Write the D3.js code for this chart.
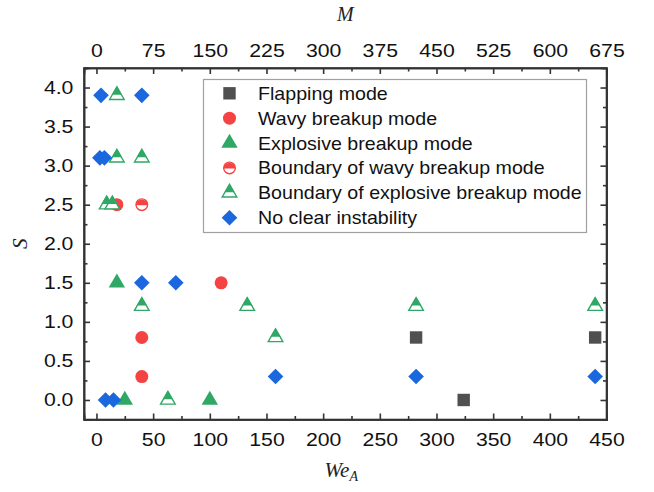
<!DOCTYPE html>
<html>
<head>
<meta charset="utf-8">
<script src="https://cdn.jsdelivr.net/npm/d3@7/dist/d3.min.js"></script>
<style>
  html, body { margin: 0; padding: 0; background: #fff; }
  svg { display: block; }
  .tick-label { font-family: "Liberation Sans", Arial, sans-serif; font-size: 18px; fill: #111; }
  .title { font-family: "Liberation Serif", "Times New Roman", serif; font-style: italic; fill: #222; }
</style>
</head>
<body>
<svg id="chart" width="654" height="492"></svg>
<script>
// ---- data: Weber number We_A and S for each regime ----
const flappingWe = [282, 440, 324];
const flappingS  = [0.8, 0.8, 0.0];

const wavyWe = [18, 110, 40, 40];
const wavyS  = [2.5, 1.5, 0.8, 0.3];

const explosiveWe = [18, 25, 100];
const explosiveS  = [1.5, 0.0, 0.0];

const boundaryWavyWe = [40];
const boundaryWavyS  = [2.5];

const boundaryExplosiveWe = [18, 18, 40, 9, 14, 40, 133, 158, 282, 440, 63];
const boundaryExplosiveS  = [3.9, 3.1, 3.1, 2.5, 2.5, 1.2, 1.2, 0.8, 1.2, 1.2, 0.0];

const noClearWe = [4, 40, 3, 7, 40, 70, 158, 282, 440, 8, 15];
const noClearS  = [3.9, 3.9, 3.1, 3.1, 1.5, 1.5, 0.3, 0.3, 0.3, 0.0, 0.0];

const seriesNames = [
  "Flapping mode",
  "Wavy breakup mode",
  "Explosive breakup mode",
  "Boundary of wavy breakup mode",
  "Boundary of explosive breakup mode",
  "No clear instability"
];

// tick values
const weTicks = [0, 50, 100, 150, 200, 250, 300, 350, 400, 450];
const mTicks  = [0, 75, 150, 225, 300, 375, 450, 525, 600, 675];
const sTicks  = [0, 0.5, 1.0, 1.5, 2.0, 2.5, 3.0, 3.5, 4.0];

// ---- layout ----
const plotL = 84, plotR = 606.5, plotT = 68, plotB = 419.5;
const svg = d3.select("#chart");

const x = d3.scaleLinear().domain([-11, 450]).range([plotL, plotR]);
const xTop = d3.scaleLinear().domain([-16.5, 675]).range([plotL, plotR]); // M = 1.5 We_A
const y = d3.scaleLinear().domain([-0.25, 4.25]).range([plotB, plotT]);

const axisColor = "#333";
const COLORS = { gray: "#505050", red: "#f54343", green: "#2fa866", blue: "#1a67de" };

// minor ticks halfway between the majors
const minorOf = (ticks) => ticks.slice(0, -1).map((t, i) => (t + ticks[i + 1]) / 2);

function styleAxis(g) {
  g.selectAll("path.domain").attr("stroke", axisColor).attr("stroke-width", 1.6);
  g.selectAll(".tick line").attr("stroke", axisColor).attr("stroke-width", 1.6);
}
function styleLabels(g, sx) {
  g.selectAll("text").attr("class", "tick-label").attr("font-size", null)
    .attr("font-family", null).attr("fill", null).attr("transform", `scale(${sx},1)`);
}

// frame
svg.append("rect")
  .attr("x", plotL).attr("y", plotT)
  .attr("width", plotR - plotL).attr("height", plotB - plotT)
  .attr("fill", "none").attr("stroke", axisColor).attr("stroke-width", 1.6);

const sx = 1.18; // horizontal stretch of tick labels

// bottom axis
const gB = svg.append("g").attr("transform", `translate(0,${plotB})`)
  .call(d3.axisBottom(x).tickValues(weTicks).tickSize(-6).tickPadding(14).tickFormat(d3.format("d")));
styleLabels(gB, sx);
svg.append("g").attr("transform", `translate(0,${plotB})`)
  .call(d3.axisBottom(x).tickValues(minorOf(weTicks)).tickSize(-3.5).tickFormat(""))
  .call(styleAxis);
styleAxis(gB);

// top axis (M)
const gT = svg.append("g").attr("transform", `translate(0,${plotT})`)
  .call(d3.axisTop(xTop).tickValues(mTicks).tickSize(-6).tickPadding(11).tickFormat(d3.format("d")));
styleLabels(gT, sx);
svg.append("g").attr("transform", `translate(0,${plotT})`)
  .call(d3.axisTop(xTop).tickValues(minorOf(mTicks)).tickSize(-3.5).tickFormat(""))
  .call(styleAxis);
styleAxis(gT);

// left axis
const gL = svg.append("g").attr("transform", `translate(${plotL},0)`)
  .call(d3.axisLeft(y).tickValues(sTicks).tickSize(-6).tickPadding(9).tickFormat(d3.format(".1f")));
styleLabels(gL, sx);
svg.append("g").attr("transform", `translate(${plotL},0)`)
  .call(d3.axisLeft(y).tickValues(minorOf(sTicks).concat([4.25])).tickSize(-3.5).tickFormat(""))
  .call(styleAxis);
styleAxis(gL);

// right axis (ticks only)
const gR = svg.append("g").attr("transform", `translate(${plotR},0)`)
  .call(d3.axisRight(y).tickValues(sTicks).tickSize(-6).tickFormat(""));
svg.append("g").attr("transform", `translate(${plotR},0)`)
  .call(d3.axisRight(y).tickValues(minorOf(sTicks)).tickSize(-3.5).tickFormat(""))
  .call(styleAxis);
styleAxis(gR);

// axis titles
svg.append("text").attr("class", "title")
  .attr("x", (plotL + plotR) / 2).attr("y", 21)
  .attr("text-anchor", "middle").attr("font-size", 20).text("M");

const xt = svg.append("text").attr("class", "title")
  .attr("x", (plotL + plotR) / 2 - 4).attr("y", 477)
  .attr("text-anchor", "middle").attr("font-size", 21);
xt.append("tspan").text("We");
xt.append("tspan").attr("font-size", 14).attr("dy", 4).text("A");

svg.append("text").attr("class", "title")
  .attr("transform", `translate(27,${(plotT + plotB) / 2}) rotate(-90)`)
  .attr("text-anchor", "middle").attr("font-size", 21).text("S");

// ---- marker painters ----
const R = 6.5;           // circle radius
const D = 7.8;           // diamond half-diagonal
const SQ = 12.4;         // square side
const TW = 8.2, TH = 14; // triangle half-width, height

function drawSquare(g) {
  g.append("rect").attr("x", -SQ / 2).attr("y", -SQ / 2).attr("width", SQ).attr("height", SQ)
    .attr("fill", COLORS.gray);
}
function drawCircle(g) {
  g.append("circle").attr("r", R).attr("fill", COLORS.red);
}
function drawTriangle(g) {
  const c = TH / 3;
  g.append("path").attr("d", `M0,${-2 * c} L${TW},${c} L${-TW},${c} Z`).attr("fill", COLORS.green);
}
function drawHalfCircle(g) {
  const r = R - 0.7;
  g.append("circle").attr("r", r).attr("fill", "#fff")
    .attr("stroke", COLORS.red).attr("stroke-width", 1.4);
  g.append("path").attr("d", `M${-r},0.5 A${r},${r} 0 0 1 ${r},0.5 Z`).attr("fill", COLORS.red);
}
function drawHalfTriangle(g) {
  const c = TH / 3;
  g.append("path").attr("d", `M0,${-2 * c + 0.8} L${TW - 0.9},${c - 0.5} L${-TW + 0.9},${c - 0.5} Z`)
    .attr("fill", "#fff").attr("stroke", COLORS.green).attr("stroke-width", 1.4);
  // upper part filled
  const frac = 0.62;
  const yb = -2 * c + TH * frac;
  const hw = TW * frac;
  g.append("path").attr("d", `M0,${-2 * c} L${hw},${yb} L${-hw},${yb} Z`).attr("fill", COLORS.green);
}
function drawDiamond(g) {
  g.append("path").attr("d", `M0,${-D} L${D},0 L0,${D} L${-D},0 Z`).attr("fill", COLORS.blue);
}

const series = [
  { we: flappingWe, s: flappingS, draw: drawSquare },
  { we: wavyWe, s: wavyS, draw: drawCircle },
  { we: explosiveWe, s: explosiveS, draw: drawTriangle },
  { we: boundaryWavyWe, s: boundaryWavyS, draw: drawHalfCircle },
  { we: boundaryExplosiveWe, s: boundaryExplosiveS, draw: drawHalfTriangle },
  { we: noClearWe, s: noClearS, draw: drawDiamond }
];

const plot = svg.append("g");
series.forEach((ser) => {
  ser.we.forEach((we, i) => {
    const g = plot.append("g").attr("transform", `translate(${x(we)},${y(ser.s[i])})`);
    ser.draw(g);
  });
});

// ---- legend ----
const lg = svg.append("g");
lg.append("rect").attr("x", 203.5).attr("y", 79.5).attr("width", 383).attr("height", 153)
  .attr("fill", "#fff").attr("stroke", "#a0a0a0").attr("stroke-width", 1.2);
const rowY = d3.scaleLinear().domain([0, 5]).range([93.3, 217.7]);
series.forEach((ser, i) => {
  const row = lg.append("g").attr("transform", `translate(229.5,${rowY(i)})`);
  ser.draw(row);
  lg.append("text").attr("class", "tick-label")
    .attr("transform", `translate(258,${rowY(i) + 6.5}) scale(1.09,1)`)
    .text(seriesNames[i]);
});
</script>
</body>
</html>
